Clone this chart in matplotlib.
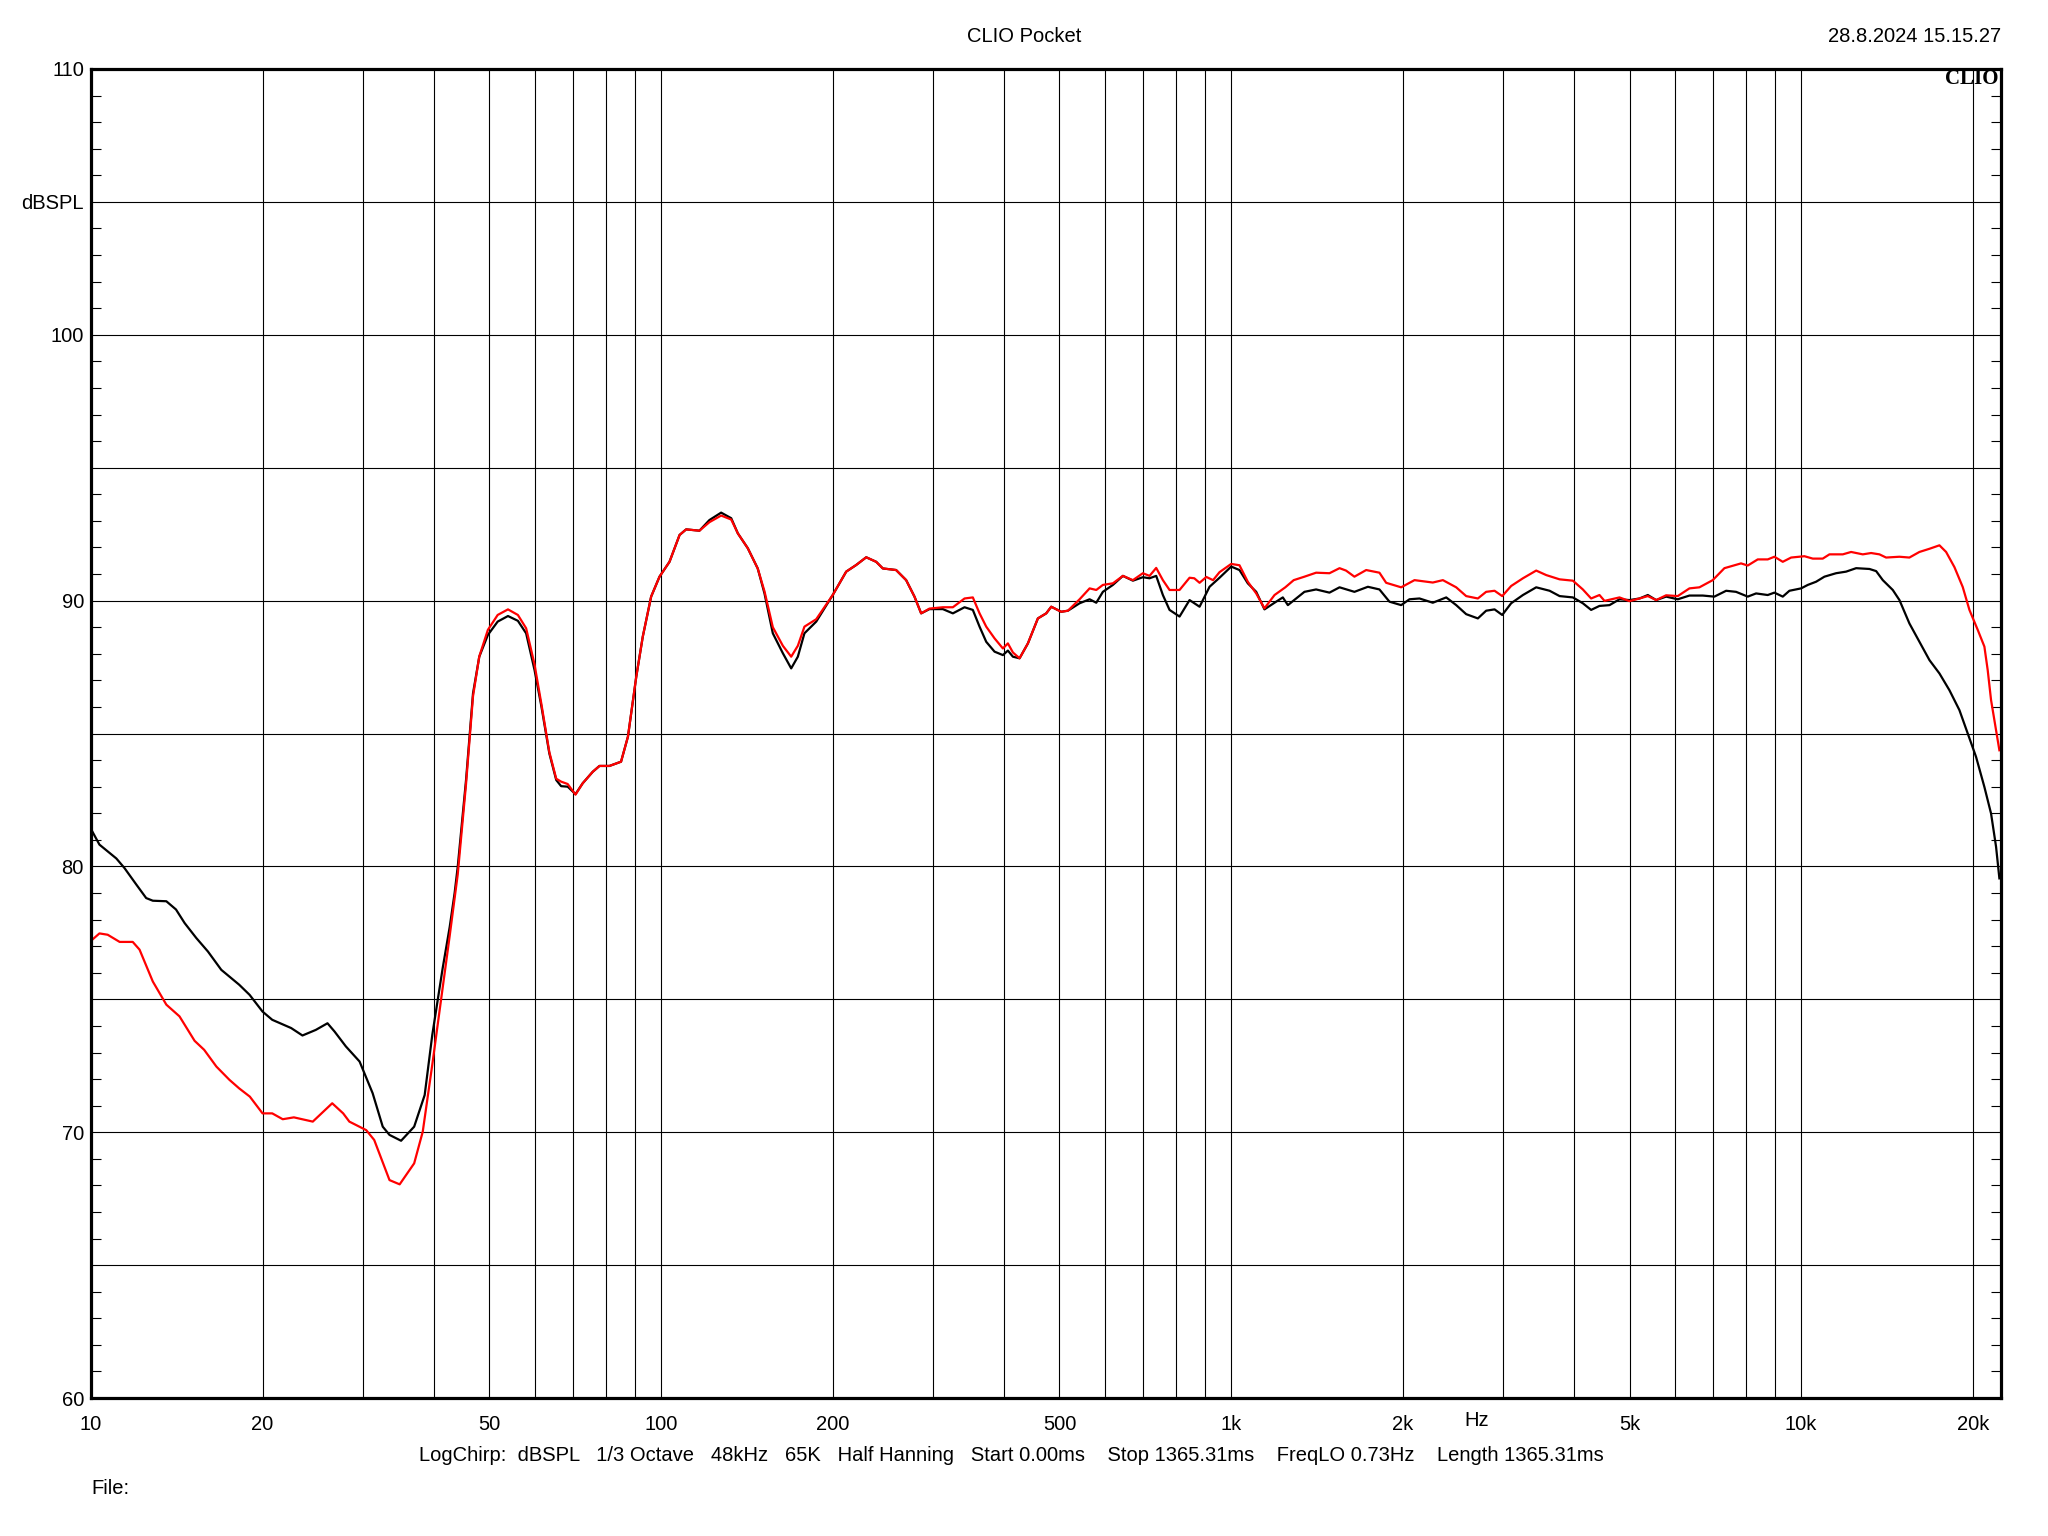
import numpy as np
import matplotlib
matplotlib.use("Agg")
import matplotlib.pyplot as plt
from matplotlib.ticker import FixedLocator, LogLocator, NullFormatter, MultipleLocator

plt.rcParams['font.family'] = ['Liberation Sans', 'DejaVu Sans']

# black trace (Hz, dBSPL)
black_f = [10, 10.35, 11.08, 11.45, 12.01, 12.5, 12.84, 13.56, 14.1, 14.6, 15.3, 16.04, 16.93,
           18.2, 18.98, 20.0, 20.8, 22.45, 23.5, 24.8, 26.0, 26.75, 28.0, 29.6, 31.2, 32.5,
           33.4, 35.0, 36.9, 38.5, 39.7, 41.4, 42.6, 43.45, 44.0, 45.5, 46.8, 48.0, 49.7, 51.7,
           53.9, 56.1, 58.0, 60.0, 61.7, 63.7, 65.5, 66.8, 68.6, 70.8, 72.9, 75.9, 78.0, 81.2,
           85.1, 87.5, 90.5, 92.9, 96.1, 99.4, 103.5, 107.8, 110.7, 116.8, 121.6, 127.5, 132.8,
           136.4, 142.0, 147.8, 151.9, 157.1, 163.6, 169.2, 173.8, 178.5, 187.2, 200.1, 211.3,
           220.0, 229.1, 238.5, 245, 258.5, 269.2, 278.4, 286.0, 295.8, 312.2, 325.1, 340.8,
           352.4, 362.1, 372.0, 384.7, 397.9, 406.0, 414.3, 425.6, 440.2, 458.3, 474.0, 483.7,
           503.6, 517.4, 542.4, 564.8, 580.2, 595.9, 620.5, 646.1, 672.7, 700.4, 719.5, 739.1,
           759.3, 780.0, 812.2, 845.7, 880.6, 916.8, 954.5, 1000.6, 1034.6, 1070, 1107, 1144.5,
           1192, 1232.6, 1258, 1301, 1345, 1410, 1488, 1550, 1646, 1738, 1821, 1896, 1988,
           2056, 2141, 2259, 2385, 2483, 2585, 2710, 2802, 2899, 2990, 3100, 3251, 3430, 3621,
           3770, 3978, 4141, 4282, 4429, 4612, 4802, 4999, 5206, 5384, 5569, 5797, 6076, 6370,
           6722, 7045, 7387, 7689, 8062, 8337, 8739, 8978, 9286, 9539, 10000, 10273, 10624,
           10987, 11516, 11993, 12489, 13180, 13540, 13909, 14481, 14877, 15488, 16126, 16795,
           17485, 18204, 18955, 19603, 20273, 20966, 21538, 21978, 22275]
black_db = [81.41, 80.82, 80.30, 79.94, 79.32, 78.81, 78.71, 78.69, 78.38, 77.87, 77.31, 76.8,
            76.11, 75.55, 75.17, 74.54, 74.23, 73.92, 73.64, 73.85, 74.1, 73.79, 73.23, 72.66,
            71.47, 70.21, 69.9, 69.68, 70.21, 71.4, 73.66, 76.17, 77.73, 79.0, 79.99, 83.25,
            86.51, 87.89, 88.71, 89.21, 89.42, 89.24, 88.77, 87.39, 86.01, 84.25, 83.25, 83.02,
            83.0, 82.72, 83.13, 83.56, 83.78, 83.78, 83.94, 84.88, 87.14, 88.64, 90.15, 90.90,
            91.46, 92.47, 92.68, 92.63, 93.03, 93.31, 93.10, 92.53, 91.97, 91.21, 90.27, 88.77,
            88.02, 87.45, 87.89, 88.77, 89.21, 90.21, 91.09, 91.34, 91.63, 91.46, 91.21, 91.15,
            90.77, 90.15, 89.52, 89.68, 89.68, 89.52, 89.75, 89.65, 89.02, 88.45, 88.08, 87.95,
            88.12, 87.89, 87.83, 88.39, 89.33, 89.52, 89.77, 89.58, 89.62, 89.90, 90.05, 89.92,
            90.33, 90.59, 90.93, 90.75, 90.88, 90.84, 90.93, 90.21, 89.65, 89.40, 90.02, 89.77,
            90.52, 90.86, 91.28, 91.15, 90.65, 90.33, 89.67, 89.92, 90.12, 89.83, 90.08, 90.33,
            90.42, 90.30, 90.50, 90.33, 90.52, 90.42, 89.96, 89.83, 90.05, 90.08, 89.92, 90.12,
            89.83, 89.49, 89.33, 89.62, 89.67, 89.46, 89.90, 90.21, 90.50, 90.37, 90.17, 90.12,
            89.90, 89.65, 89.80, 89.83, 90.05, 90.02, 90.08, 90.21, 90.02, 90.15, 90.05, 90.19,
            90.19, 90.15, 90.37, 90.33, 90.15, 90.27, 90.21, 90.30, 90.15, 90.37, 90.46, 90.59,
            90.71, 90.90, 91.03, 91.09, 91.22, 91.19, 91.11, 90.77, 90.40, 90.02, 89.14, 88.45,
            87.76, 87.26, 86.63, 85.88, 85.0, 84.12, 82.99, 81.99, 80.74, 79.55]

# red trace (Hz, dBSPL)
red_f = [10, 10.35, 10.7, 11.23, 11.84, 12.17, 12.84, 13.56, 14.3, 15.2, 15.8, 16.6, 17.5, 18.2,
         19.0, 20.0, 20.8, 21.7, 22.7, 24.5, 26.5, 27.7, 28.4, 30.4, 31.4, 33.4, 34.8, 36.9,
         38.2, 39.7, 41.4, 42.6, 44.0, 45.5, 46.8, 48.0, 49.7, 51.7, 53.9, 56.1, 58.0, 60.0,
         61.7, 63.7, 65.5, 66.8, 68.6, 70.8, 72.9, 75.9, 78.0, 81.2, 85.1, 87.5, 90.5, 92.9,
         96.1, 99.4, 103.5, 107.8, 110.7, 116.8, 121.6, 127.5, 132.8, 136.4, 142.0, 147.8,
         151.9, 157.1, 163.6, 169.2, 173.8, 178.5, 187.2, 200.1, 211.3, 220.0, 229.1, 238.5,
         245, 258.5, 269.2, 278.4, 286.0, 295.8, 312.2, 325.1, 340.8, 352.4, 362.1, 372.0,
         384.7, 397.9, 406.0, 414.3, 425.6, 440.2, 458.3, 474.0, 483.7, 503.6, 517.4, 542.4,
         564.8, 580.2, 595.9, 620.5, 646.1, 672.7, 700.4, 719.5, 739.1, 759.3, 780.0, 812.2,
         845.7, 862, 880.6, 905, 930, 954.5, 1000.6, 1034.6, 1070, 1107, 1144.5, 1192, 1245,
         1288, 1345, 1410, 1488, 1550, 1591, 1646, 1726, 1821, 1871, 1988, 2098, 2259, 2353,
         2483, 2585, 2710, 2802, 2899, 2990, 3100, 3251, 3430, 3572, 3770, 3978, 4141, 4282,
         4429, 4520, 4802, 4999, 5206, 5384, 5569, 5797, 6076, 6370, 6632, 6998, 7336, 7845,
         8062, 8393, 8739, 8978, 9286, 9605, 10135, 10483, 10914, 11213, 11834, 12238, 12828,
         13267, 13722, 14096, 14877, 15488, 16126, 16795, 17485, 17962, 18576, 19211, 19736,
         20409, 20966, 21247, 21538, 21978, 22275]
red_db = [77.2, 77.48, 77.43, 77.16, 77.16, 76.87, 75.67, 74.8, 74.36, 73.44, 73.1, 72.47, 71.97,
          71.65, 71.34, 70.71, 70.71, 70.49, 70.56, 70.4, 71.09, 70.71, 70.4, 70.08, 69.71, 68.2,
          68.04, 68.83, 70.02, 72.54, 75.42, 77.4, 79.7, 83.1, 86.4, 87.9, 88.9, 89.46, 89.67,
          89.46, 88.96, 87.6, 86.1, 84.3, 83.3, 83.19, 83.1, 82.70, 83.13, 83.56, 83.78, 83.78,
          83.94, 84.88, 87.14, 88.64, 90.15, 90.90, 91.46, 92.47, 92.68, 92.63, 92.95, 93.2,
          93.05, 92.53, 91.97, 91.21, 90.35, 89.0, 88.3, 87.89, 88.3, 89.02, 89.3, 90.21, 91.09,
          91.34, 91.63, 91.46, 91.21, 91.15, 90.77, 90.15, 89.52, 89.7, 89.75, 89.75, 90.08,
          90.12, 89.52, 89.02, 88.58, 88.20, 88.39, 88.05, 87.83, 88.39, 89.33, 89.52, 89.77,
          89.58, 89.62, 90.05, 90.46, 90.40, 90.59, 90.65, 90.93, 90.77, 91.03, 90.93, 91.23,
          90.77, 90.40, 90.40, 90.86, 90.84, 90.67, 90.89, 90.77, 91.07, 91.38, 91.33, 90.71,
          90.27, 89.71, 90.21, 90.5, 90.77, 90.90, 91.05, 91.03, 91.22, 91.13, 90.90, 91.15,
          91.05, 90.67, 90.50, 90.77, 90.68, 90.77, 90.50, 90.17, 90.08, 90.33, 90.37, 90.17,
          90.55, 90.84, 91.13, 90.96, 90.80, 90.75, 90.42, 90.08, 90.21, 89.99, 90.12, 89.98,
          90.08, 90.17, 90.02, 90.2, 90.17, 90.46, 90.50, 90.77, 91.22, 91.40, 91.32, 91.55,
          91.55, 91.65, 91.46, 91.62, 91.67, 91.58, 91.58, 91.74, 91.74, 91.83, 91.74, 91.79,
          91.74, 91.62, 91.65, 91.62, 91.83, 91.95, 92.08, 91.83, 91.26, 90.51, 89.65, 88.9,
          88.27, 87.39, 86.26, 85.13, 84.37]

x_ticks = [10, 20, 50, 100, 200, 500, 1000, 2000, 5000, 10000, 20000]
x_labels = ['10', '20', '50', '100', '200', '500', '1k', '2k', '5k', '10k', '20k']
y_ticks = [60, 65, 70, 75, 80, 85, 90, 95, 100, 105, 110]
y_labels = ['60', '', '70', '', '80', '', '90', '', '100', 'dBSPL', '110']

fig = plt.figure(figsize=(20.48, 15.36), dpi=100)
ax = fig.add_axes([0.0444, 0.0898, 0.9327, 0.8653])

ax.plot(black_f, black_db, color='black', lw=1.6, zorder=3)
ax.plot(red_f, red_db, color='#ff0000', lw=1.6, zorder=4)

ax.set_xscale('log')
ax.set_xlim(10, 22430)
ax.set_ylim(60, 110)

ax.xaxis.set_major_locator(FixedLocator(x_ticks))
ax.set_xticklabels(x_labels)
ax.xaxis.set_minor_locator(LogLocator(base=10, subs=np.arange(2, 10), numticks=20))
ax.xaxis.set_minor_formatter(NullFormatter())
ax.set_yticks(y_ticks)
ax.set_yticklabels(y_labels)
ax.yaxis.set_minor_locator(MultipleLocator(1))

ax.grid(True, which='major', color='black', lw=0.8, zorder=1)
ax.grid(True, which='minor', axis='x', color='black', lw=0.8, zorder=1)
ax.tick_params(axis='x', which='both', length=0, labelsize=14.5, pad=12)
ax.tick_params(axis='y', which='major', length=0, labelsize=14.5, pad=5)
ax.tick_params(axis='y', which='minor', left=True, right=True, direction='in',
               length=7.2, width=0.8)
for sp in ax.spines.values():
    sp.set_linewidth(2.3)
    sp.set_zorder(5)

ax.text(0.9985, 0.9925, 'CLIO', transform=ax.transAxes, ha='right', va='center',
        fontsize=15, fontweight='bold', family='Liberation Serif', zorder=6)

fig.text(0.5, 0.9765, 'CLIO Pocket', ha='center', va='center', fontsize=14.5)
fig.text(0.977, 0.9765, '28.8.2024 15.15.27', ha='right', va='center', fontsize=14.5)
fig.text(0.7212, 1 - 1421 / 1536, 'Hz', ha='center', va='center', fontsize=14.5)
fig.text(0.4937, 0.0527,
         'LogChirp:  dBSPL   1/3 Octave   48kHz   65K   Half Hanning   Start 0.00ms    '
         'Stop 1365.31ms    FreqLO 0.73Hz    Length 1365.31ms',
         ha='center', va='center', fontsize=14.5)
fig.text(0.0446, 0.0306, 'File:', ha='left', va='center', fontsize=14.5)

fig.savefig('out.png', dpi=100)
